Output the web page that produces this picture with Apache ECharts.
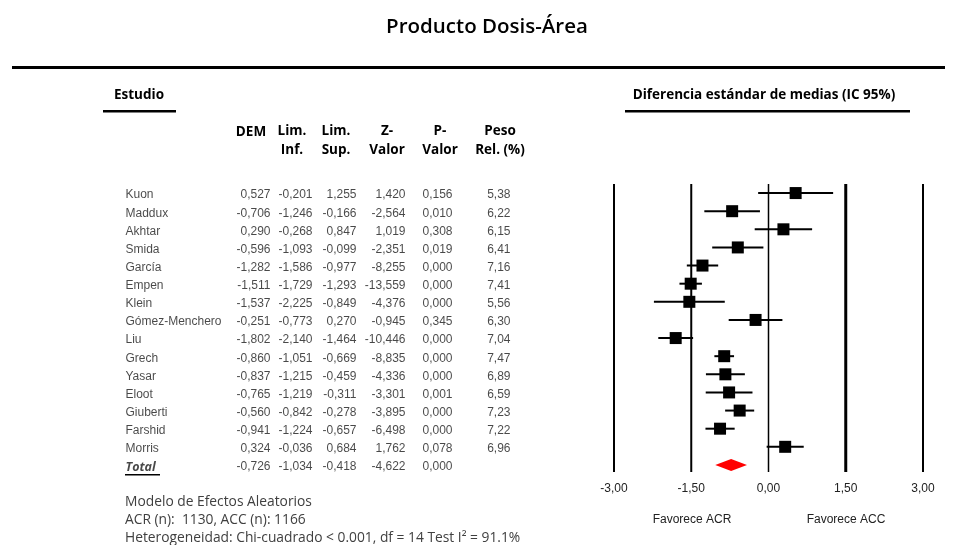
<!DOCTYPE html>
<html><head><meta charset="utf-8">
<script src="https://cdn.jsdelivr.net/npm/echarts@6/dist/echarts.min.js"></script>
<style>html,body{margin:0;padding:0;background:#fff}#c{width:957px;height:545px}</style>
</head><body><div id="c"></div>
<script>
var studies = ['Kuon','Maddux','Akhtar','Smida','García','Empen','Klein','Gómez-Menchero','Liu','Grech','Yasar','Eloot','Giuberti','Farshid','Morris'];
var dem   = [0.527,-0.706,0.290,-0.596,-1.282,-1.511,-1.537,-0.251,-1.802,-0.860,-0.837,-0.765,-0.560,-0.941,0.324];
var limInf= [-0.201,-1.246,-0.268,-1.093,-1.586,-1.729,-2.225,-0.773,-2.140,-1.051,-1.215,-1.219,-0.842,-1.224,-0.036];
var limSup= [1.255,-0.166,0.847,-0.099,-0.977,-1.293,-0.849,0.270,-1.464,-0.669,-0.459,-0.311,-0.278,-0.657,0.684];
var zVal  = [1.420,-2.564,1.019,-2.351,-8.255,-13.559,-4.376,-0.945,-10.446,-8.835,-4.336,-3.301,-3.895,-6.498,1.762];
var pVal  = [0.156,0.010,0.308,0.019,0.000,0.000,0.000,0.345,0.000,0.000,0.000,0.001,0.000,0.000,0.078];
var peso  = [5.38,6.22,6.15,6.41,7.16,7.41,5.56,6.30,7.04,7.47,6.89,6.59,7.23,7.22,6.96];
var total = {name:'Total', dem:-0.726, inf:-1.034, sup:-0.418, z:-4.622, p:0.000};
var xTicks = [-3, -1.5, 0, 1.5, 3];

var rows = studies.concat([total.name]);
function f(v,d){ return v.toFixed(d).replace('.', ','); }

// layout (pixel columns of the table area)
var colName = 125;
var colRight = [271, 313, 357, 406, 453, 511];
var dataFont = 'Liberation Sans, Arial, sans-serif';
var txtColor = '#1a1a1a';
var headStyle = 'bold 13.5px Open Sans, sans-serif';

var colValues = [
  dem.concat([total.dem]).map(function(v){return f(v,3);}),
  limInf.concat([total.inf]).map(function(v){return f(v,3);}),
  limSup.concat([total.sup]).map(function(v){return f(v,3);}),
  zVal.concat([total.z]).map(function(v){return f(v,3);}),
  pVal.concat([total.p]).map(function(v){return f(v,3);}),
  peso.map(function(v){return f(v,2);})
];

var tableSeries = colValues.map(function(col, ci){
  return {
    type:'scatter', xAxisIndex:1, yAxisIndex:1, symbolSize:1, silent:true,
    itemStyle:{color:'rgba(0,0,0,0)'},
    label:{show:true, position:'left', distance:0, offset:[0,2], color:txtColor, fontFamily:dataFont, fontSize:12,
      formatter:function(p){return p.data.txt;}},
    data: col.map(function(t, i){ return {value:[colRight[ci], i], txt:t}; })
  };
});
tableSeries.push({
  type:'scatter', xAxisIndex:1, yAxisIndex:1, symbolSize:1, silent:true,
  itemStyle:{color:'rgba(0,0,0,0)'},
  label:{show:true, position:'right', distance:0, offset:[0,2], color:txtColor, fontFamily:dataFont, fontSize:12,
    formatter:function(p){return p.data.txt;}},
  data: rows.map(function(t, i){
    var d = {value:[colName, i], txt:t};
    if (i === rows.length-1) d.label = {fontWeight:'bold', fontStyle:'italic', fontFamily:'Open Sans, sans-serif', fontSize:12.5};
    return d;
  })
});

var forestData = studies.map(function(s,i){ return [limInf[i], limSup[i], dem[i], i]; });
var lineWidths = [2, 2, 1.5, 3, 2];

var option = {
  animation:false,
  backgroundColor:'#fff',
  grid:[
    {left:614, right:34, top:184, height:290},
    {left:0, right:0, top:184, height:290}
  ],
  xAxis:[
    {type:'value', gridIndex:0, min:-3, max:3, interval:1.5,
      axisLine:{show:false}, axisTick:{show:false}, splitLine:{show:false},
      axisLabel:{margin:9, color:'#222', fontFamily:dataFont, fontSize:12,
        formatter:function(v){return f(v,2);}}},
    {type:'value', gridIndex:1, min:0, max:957, show:false}
  ],
  yAxis:[
    {type:'category', gridIndex:0, data:rows, inverse:true, show:false},
    {type:'category', gridIndex:1, data:rows, inverse:true, show:false}
  ],
  series:[
    {
      type:'custom', xAxisIndex:0, yAxisIndex:0, silent:true,
      encode:{x:0, y:1},
      data: xTicks.map(function(v,i){ return [v, 0, lineWidths[i]]; }),
      renderItem:function(params, api){
        var cs = params.coordSys;
        var p = api.coord([api.value(0), 0]);
        return {type:'line', shape:{x1:p[0], y1:cs.y, x2:p[0], y2:cs.y+cs.height-2}, style:{stroke:'#000', lineWidth:api.value(2)}};
      }
    },
    {
      type:'custom', xAxisIndex:0, yAxisIndex:0, silent:true,
      encode:{x:[0,1,2], y:3},
      data: forestData,
      renderItem:function(params, api){
        var y = api.value(3);
        var a = api.coord([api.value(0), y]);
        var b = api.coord([api.value(1), y]);
        var c = api.coord([api.value(2), y]);
        var s = 12;
        return {type:'group', children:[
          {type:'line', shape:{x1:a[0], y1:a[1], x2:b[0], y2:b[1]}, style:{stroke:'#000', lineWidth:2}},
          {type:'rect', shape:{x:c[0]-s/2, y:c[1]-s/2, width:s, height:s}, style:{fill:'#000'}}
        ]};
      }
    },
    {
      type:'custom', xAxisIndex:0, yAxisIndex:0, silent:true,
      encode:{x:[0,1,2], y:3},
      data:[[total.inf, total.sup, total.dem, rows.length-1]],
      renderItem:function(params, api){
        var y = api.value(3);
        var a = api.coord([api.value(0), y]);
        var b = api.coord([api.value(1), y]);
        var c = api.coord([api.value(2), y]);
        var h = 6;
        return {type:'polygon', shape:{points:[[a[0],a[1]],[c[0],c[1]-h],[b[0],b[1]],[c[0],c[1]+h]]}, style:{fill:'#f00'}};
      }
    }
  ].concat(tableSeries),
  graphic:[
    {type:'text', x:487, y:27, style:{text:'Producto Dosis-Área', font:'600 20.5px Open Sans, sans-serif', fill:'#000', align:'center', verticalAlign:'middle'}},
    {type:'rect', shape:{x:12, y:66, width:933, height:3}, style:{fill:'#000'}},
    {type:'text', x:139, y:95, style:{text:'Estudio', font:headStyle, fill:'#000', align:'center', verticalAlign:'middle'}},
    {type:'rect', shape:{x:103, y:110, width:73, height:2.5}, style:{fill:'#000'}},
    {type:'text', x:764, y:95, style:{text:'Diferencia estándar de medias (IC 95%)', font:headStyle, fill:'#000', align:'center', verticalAlign:'middle'}},
    {type:'rect', shape:{x:625, y:110, width:285, height:2.5}, style:{fill:'#000'}},
    {type:'text', x:251, y:132, style:{text:'DEM', font:headStyle, fill:'#000', align:'center', verticalAlign:'middle'}},
    {type:'text', x:292, y:141, style:{text:'Lim.\nInf.', font:headStyle, fill:'#000', align:'center', verticalAlign:'middle', lineHeight:19}},
    {type:'text', x:336, y:141, style:{text:'Lim.\nSup.', font:headStyle, fill:'#000', align:'center', verticalAlign:'middle', lineHeight:19}},
    {type:'text', x:387, y:141, style:{text:'Z-\nValor', font:headStyle, fill:'#000', align:'center', verticalAlign:'middle', lineHeight:19}},
    {type:'text', x:440, y:141, style:{text:'P-\nValor', font:headStyle, fill:'#000', align:'center', verticalAlign:'middle', lineHeight:19}},
    {type:'text', x:500, y:141, style:{text:'Peso\nRel. (%)', font:headStyle, fill:'#000', align:'center', verticalAlign:'middle', lineHeight:19}},
    {type:'rect', shape:{x:125, y:474, width:35, height:1.5}, style:{fill:'#000'}},
    {type:'text', x:692, y:520, style:{text:'Favorece ACR', font:'12px Liberation Sans, Arial, sans-serif', fill:'#222', align:'center', verticalAlign:'middle'}},
    {type:'text', x:846, y:520, style:{text:'Favorece ACC', font:'12px Liberation Sans, Arial, sans-serif', fill:'#222', align:'center', verticalAlign:'middle'}},
    {type:'text', x:125, y:502, style:{text:'Modelo de Efectos Aleatorios', font:'13.8px Open Sans, sans-serif', fill:'#404040', verticalAlign:'middle'}},
    {type:'text', x:125, y:520, style:{text:'ACR (n):  1130, ACC (n): 1166', font:'13.8px Open Sans, sans-serif', fill:'#404040', verticalAlign:'middle'}},
    {type:'text', x:125, y:538, style:{text:'Heterogeneidad: Chi-cuadrado < 0.001, df = 14 Test I² = 91.1%', font:'13.8px Open Sans, sans-serif', fill:'#404040', verticalAlign:'middle'}}
  ]
};
var chart = echarts.init(document.getElementById('c'), null, {renderer:'canvas'});
chart.setOption(option);
</script></body></html>
